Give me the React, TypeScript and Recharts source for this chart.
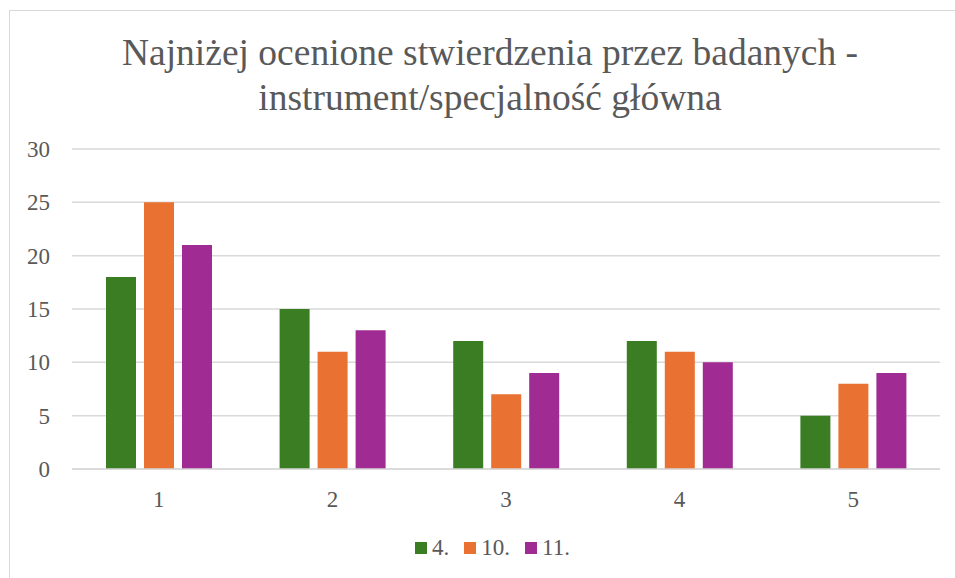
import React from "react";
import { BarChart, Bar, XAxis, YAxis, CartesianGrid } from "recharts";

const categories = ["1", "2", "3", "4", "5"];
const series4 = [18, 15, 12, 12, 5];
const series10 = [25, 11, 7, 11, 8];
const series11 = [21, 13, 9, 10, 9];
const yTicks = [0, 5, 10, 15, 20, 25, 30];

const SERIES = [
  { key: "s4", name: "4.", color: "#3A7D22" },
  { key: "s10", name: "10.", color: "#E97132" },
  { key: "s11", name: "11.", color: "#A02B93" },
];

const data = categories.map((c, i) => ({
  name: c,
  s4: series4[i],
  s10: series10[i],
  s11: series11[i],
}));

const FONT = "Liberation Serif";
const TEXT = "#595959";

export default function App() {
  return (
    <div
      style={{
        position: "absolute",
        left: 0,
        top: 0,
        width: 955,
        height: 578,
        overflow: "hidden",
        background: "#fff",
        fontFamily: FONT,
      }}
    >
      {/* chart area border, right/bottom edges fall outside the picture */}
      <div
        style={{
          position: "absolute",
          left: 9,
          top: 10,
          width: 960,
          height: 600,
          border: "1px solid #d9d9d9",
          boxSizing: "border-box",
        }}
      />
      <div
        style={{
          position: "absolute",
          left: 0,
          top: 30,
          width: 980,
          textAlign: "center",
          fontSize: 37.5,
          lineHeight: "45px",
          color: TEXT,
          fontFamily: FONT,
        }}
      >
        Najniżej ocenione stwierdzenia przez badanych -
        <br />
        instrument/specjalność główna
      </div>
      <div style={{ position: "absolute", left: 0, top: 0 }}>
        <BarChart
          width={955}
          height={578}
          data={data}
          margin={{ top: 149, right: 15, left: 0, bottom: 79 }}
          barCategoryGap={34}
          barGap={8}
        >
          <CartesianGrid stroke="#d9d9d9" strokeWidth={1.5} vertical={false} />
          <XAxis
            dataKey="name"
            height={30}
            tickLine={false}
            axisLine={{ stroke: "#d9d9d9", strokeWidth: 1.5 }}
            tickMargin={16}
            tick={{ fill: TEXT, fontSize: 23, fontFamily: FONT }}
          />
          <YAxis
            width={72}
            domain={[0, 30]}
            ticks={yTicks}
            tickLine={false}
            axisLine={false}
            tickMargin={16}
            tick={{ fill: TEXT, fontSize: 23, fontFamily: FONT }}
          />
          {SERIES.map((s) => (
            <Bar
              key={s.key}
              dataKey={s.key}
              name={s.name}
              fill={s.color}
              isAnimationActive={false}
            />
          ))}
        </BarChart>
      </div>
      <div
        style={{
          position: "absolute",
          left: 415,
          top: 535,
          display: "flex",
          alignItems: "center",
          fontSize: 23,
          color: TEXT,
          lineHeight: "26px",
          fontFamily: FONT,
        }}
      >
        {SERIES.map((s) => (
          <div
            key={s.key}
            style={{ display: "flex", alignItems: "center", marginRight: 15 }}
          >
            <span
              style={{
                display: "inline-block",
                width: 12,
                height: 12,
                background: s.color,
                marginRight: 5,
              }}
            />
            <span>{s.name}</span>
          </div>
        ))}
      </div>
    </div>
  );
}
